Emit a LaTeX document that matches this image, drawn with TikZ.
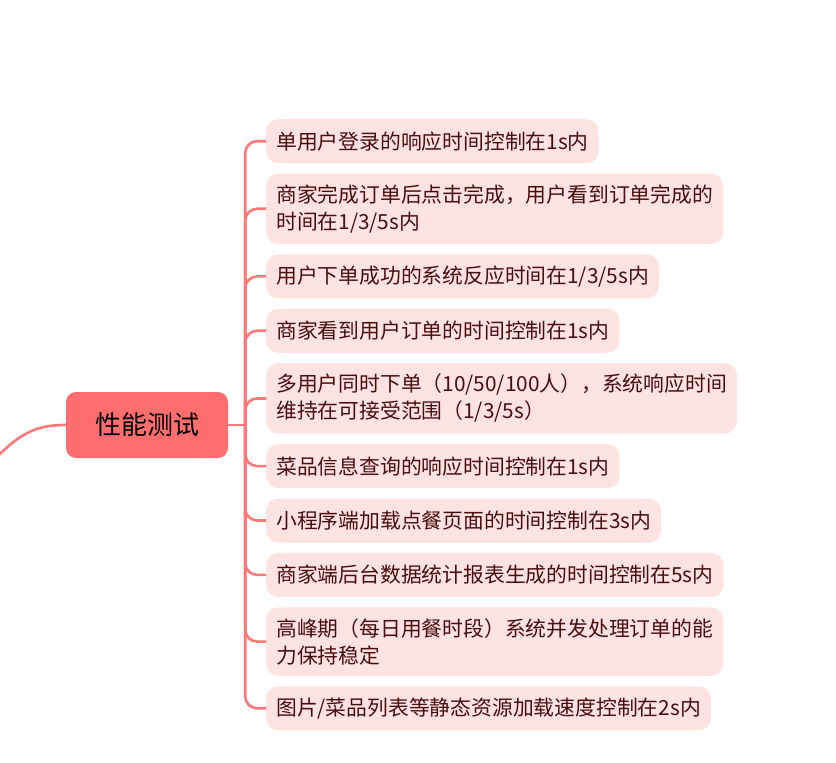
\documentclass[tikz,border=0pt]{standalone}
\usepackage{fontspec}
\setmainfont{Noto Sans CJK SC}
\usetikzlibrary{positioning}
\definecolor{rootred}{HTML}{FF6E6E}
\definecolor{linkred}{HTML}{FF7878}
\definecolor{leafpink}{HTML}{FFE3E3}
\definecolor{leaftext}{HTML}{4A0D0D}
\begin{document}
\begin{tikzpicture}[x=1pt, y=-1pt,
  rootbox/.style={fill=rootred, rounded corners=10pt, minimum width=162pt, minimum height=66pt, font=\fontsize{26}{30}\selectfont},
  leaf/.style={fill=leafpink, rounded corners=12pt, align=left, inner xsep=10pt, inner ysep=11pt, minimum height=44pt, text=leaftext, font=\fontsize{20.8}{27}\selectfont},
  under/.style={below=10pt of #1.south west, anchor=north west},
  link/.style={draw=linkred, line width=2.6pt, rounded corners=12pt}]
  \useasboundingbox (0,0) rectangle (836,763);
  \node[rootbox] (perf) at (147,425) {性能测试};
  \node[leaf, anchor=north west] (login) at (266,119) {单用户登录的响应时间控制在1s内};
  \node[leaf, under=login] (finish) {商家完成订单后点击完成，用户看到订单完成的\\时间在1/3/5s内};
  \node[leaf, under=finish] (order) {用户下单成功的系统反应时间在1/3/5s内};
  \node[leaf, under=order] (notify) {商家看到用户订单的时间控制在1s内};
  \node[leaf, under=notify] (multi) {多用户同时下单（10/50/100人），系统响应时间\\维持在可接受范围（1/3/5s）};
  \node[leaf, under=multi] (query) {菜品信息查询的响应时间控制在1s内};
  \node[leaf, under=query] (mini) {小程序端加载点餐页面的时间控制在3s内};
  \node[leaf, under=mini] (report) {商家端后台数据统计报表生成的时间控制在5s内};
  \node[leaf, under=report] (peak) {高峰期（每日用餐时段）系统并发处理订单的能\\力保持稳定};
  \node[leaf, under=peak] (assets) {图片/菜品列表等静态资源加载速度控制在2s内};
  % incoming branch from the parent topic
  \coordinate (parent) at (-8,462);
  \draw[link] (parent) .. controls (22,430) and (40,425) .. (perf.west);
  % bracket to the leaves
  \coordinate (hub) at ([xshift=17pt]perf.east);
  \draw[link] (perf.east) -- (hub);
  \draw[link] (hub) |- (login.west);
  \draw[link] (hub) |- (finish.west);
  \draw[link] (hub) |- (order.west);
  \draw[link] (hub) |- (notify.west);
  \draw[link] (hub) |- (multi.west);
  \draw[link] (hub) |- (query.west);
  \draw[link] (hub) |- (mini.west);
  \draw[link] (hub) |- (report.west);
  \draw[link] (hub) |- (peak.west);
  \draw[link] (hub) |- (assets.west);
\end{tikzpicture}
\end{document}
